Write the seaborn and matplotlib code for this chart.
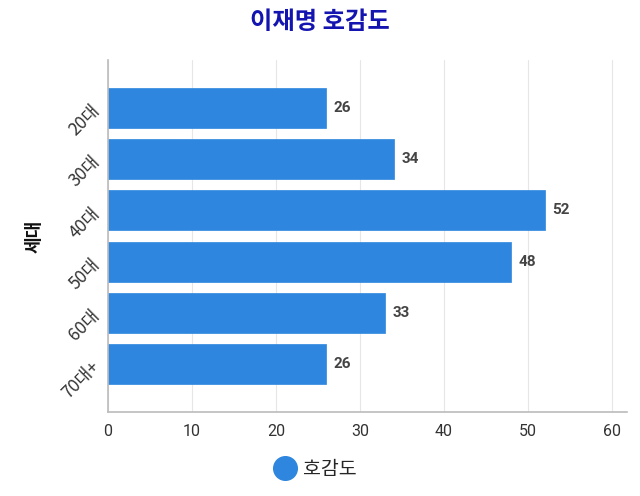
import matplotlib
matplotlib.use("Agg")
import matplotlib.pyplot as plt
import seaborn as sns
import pandas as pd
from matplotlib.lines import Line2D

categories = ["20대", "30대", "40대", "50대", "60대", "70대+"]
values = [26, 34, 52, 48, 33, 26]
series_name = "호감도"
title = "이재명 호감도"
ylabel = "세대"
xticks = [0, 10, 20, 30, 40, 50, 60]

sns.set_theme(style="white")
plt.rcParams["font.family"] = ["Roboto", "Noto Sans CJK KR", "DejaVu Sans"]

df = pd.DataFrame({"cat": categories, "val": values})
bar_color = "#2E86DE"

fig = plt.figure(figsize=(6.4, 4.96), dpi=100)
ax = fig.add_axes([108/640, 1 - 412/496, (627-108)/640, (412-60)/496])

sns.barplot(data=df, y="cat", x="val", color=bar_color, saturation=1, width=0.78, ax=ax,
            orient="h", edgecolor=bar_color, linewidth=0.5)

ax.set_xlim(0, 61.8)
ax.set_ylim(5.94, -0.94)
ax.set_xticks(xticks)
ax.set_xticklabels([str(t) for t in xticks], fontsize=11.5, color="#333333")
ax.set_yticks(range(len(categories)))
ax.set_yticklabels(categories, rotation=45, ha="right", va="center", rotation_mode="anchor",
                   fontsize=12.5, color="#333333", family=["Noto Sans CJK KR", "DejaVu Sans"])
ax.xaxis.grid(True, color="#e6e6e6", linewidth=0.8)
ax.set_axisbelow(True)
for s in ["top", "right"]:
    ax.spines[s].set_visible(False)
for s in ["left", "bottom"]:
    ax.spines[s].set_color("#bbbbbb")
    ax.spines[s].set_linewidth(1.2)
ax.tick_params(axis="both", which="both", length=5, color="#bbbbbb", width=1)
ax.tick_params(axis="x", pad=4)
ax.tick_params(axis="y", pad=3)

ax.set_xlabel("")
ax.set_ylabel(ylabel, fontsize=13, fontweight="bold", color="#111111",
              family=["Noto Sans CJK KR", "DejaVu Sans"], labelpad=11)

for i, v in enumerate(values):
    ax.text(v + 0.9, i, str(v), va="center", ha="left", fontsize=11, fontweight="bold", color="#444444")

fig.text(0.5, 1 - 22/496, title, ha="center", va="center", fontsize=17.5, fontweight="bold",
         color="#1414b0", family=["Noto Sans CJK KR", "DejaVu Sans"])

handle = Line2D([0], [0], marker="o", color="none", markerfacecolor=bar_color,
                markeredgecolor=bar_color, markersize=17)
fig.legend([handle], [series_name], loc="center", bbox_to_anchor=(315/640, 1 - 469/496),
           frameon=False, prop={"family": ["Noto Sans CJK KR", "DejaVu Sans"], "size": 14},
           handletextpad=0.3, handlelength=1.2)

fig.savefig("out.png", dpi=100)
